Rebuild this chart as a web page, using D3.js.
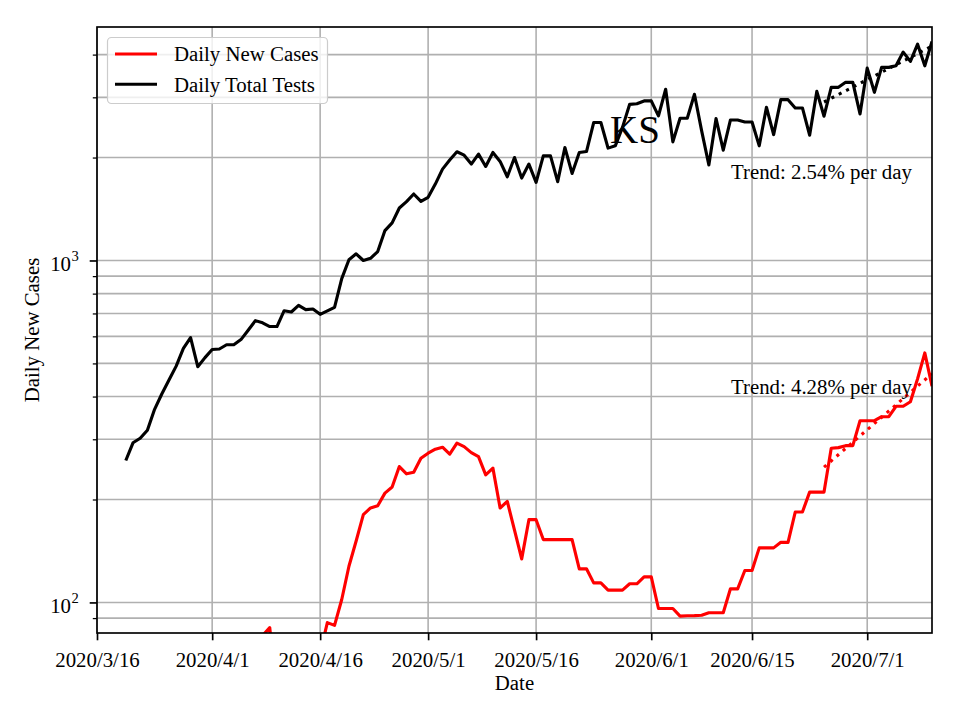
<!DOCTYPE html>
<html><head><meta charset="utf-8">
<script src="https://cdn.jsdelivr.net/npm/d3@7/dist/d3.min.js"></script>
<style>
body{margin:0;background:#fff}
svg{display:block}
text{font-family:"Liberation Serif","Times New Roman",serif;fill:#000}
</style>
</head><body>
<svg id="chart" width="960" height="720"></svg>
<script>
// ---------------- data ----------------
const stateName = "KS";
const firstDataDate = "2020-03-20";
const lastDataDate = "2020-07-10";
const axisStartDate = "2020-03-16";
const axisEndDate = "2020-07-10";

const dailyNewCases = [
  14, 11, 21, 16, 28, 27, 32, 40, 56, 55,
  38, 45, 60, 48, 52, 66, 59, 70, 62, 80,
  84.4, 52, 60, 49, 66, 58, 64, 71, 87.3, 85.7,
  102, 127.6, 151.2, 180.6, 188.9, 191.8, 208.8, 217.5, 249.6, 237.7,
  240.4, 264.1, 273.2, 280.6, 284.4, 271.4, 292.2, 285.6, 274.3, 267,
  236, 247, 188.9, 197.4, 162.6, 134.1, 174.6, 174.6, 152.7, 152.7,
  152.7, 152.7, 152.7, 125.4, 125.4, 114.1, 114.1, 108.6, 108.6, 108.6,
  113.4, 113.4, 118.8, 118.8, 96.0, 96.0, 96.0, 91.2, 91.4, 91.5,
  91.7, 93.3, 93.3, 93.3, 109.6, 109.6, 124.0, 124.0, 144.4, 144.4,
  144.4, 149.9, 149.9, 183.8, 183.8, 210.2, 210.2, 210.2, 282.5, 283.6,
  287.4, 287.4, 340, 340, 340, 349.2, 349.2, 374.6, 374.6, 386.4,
  451, 536.6, 429
];

const dailyTotalTests = [
  260, 293, 302, 319, 367, 407, 447, 491, 553, 595,
  489, 520, 549, 551, 567, 567, 587, 625, 667, 657,
  641, 641, 713, 707, 739, 718, 721, 696, 712, 729,
  885, 1005, 1046, 1000, 1015, 1062, 1223, 1288, 1424, 1486,
  1565, 1489, 1530, 1673, 1850, 1966, 2079, 2032, 1914, 2047,
  1884, 2069, 1948, 1757, 2000, 1742, 1914, 1692, 2023, 2023,
  1700, 2140, 1797, 2069, 2083, 2532, 2532, 2131, 2164, 2450,
  2862, 2874, 2928, 2928, 2647, 3167, 2223, 2606, 2606, 3062,
  2394, 1902, 2600, 2102, 2576, 2576, 2541, 2541, 2164, 2806,
  2334, 2953, 2953, 2793, 2793, 2325, 3124, 2642, 3209, 3209,
  3319, 3319, 2683, 3653, 3103, 3670, 3670, 3710, 4068, 3821,
  4292, 3710, 4371
];

const trendDates = ["2020-06-25", "2020-07-10"];
const casesTrend = [248.7, 466.7];
const testsTrend = [2907, 4236];
const casesTrendLabel = "Trend: 4.28% per day";
const testsTrendLabel = "Trend: 2.54% per day";

const xTickDates = ["2020-03-16","2020-04-01","2020-04-16","2020-05-01","2020-05-16","2020-06-01","2020-06-15","2020-07-01"];
const xTickLabels = ["2020/3/16","2020/4/1","2020/4/16","2020/5/1","2020/5/16","2020/6/1","2020/6/15","2020/7/1"];
const yMajorTicks = [100, 1000];
const yMajorExponents = ["2", "3"];
const yMinorTicks = [90, 200, 300, 400, 500, 600, 700, 800, 900, 2000, 3000, 4000];
const yDomain = [81.4, 4817];

const seriesNames = ["Daily New Cases", "Daily Total Tests"];
const seriesColors = ["#ff0000", "#000000"];

// ---------------- layout ----------------
const L = 97, R = 932, T = 27, B = 633;
const FS = 20.83;
const LW = 3.125;

const parse = d3.utcParse("%Y-%m-%d");
const dates = d3.utcDay.range(parse(firstDataDate), d3.utcDay.offset(parse(lastDataDate), 1));

const x = d3.scaleUtc().domain([parse(axisStartDate), parse(axisEndDate)]).range([L, R]);
const y = d3.scaleLog().domain(yDomain).range([B, T]);

const svg = d3.select("#chart");
svg.append("rect").attr("width", 960).attr("height", 720).attr("fill", "#fff");

svg.append("defs").append("clipPath").attr("id", "clip")
  .append("rect").attr("x", L).attr("y", T).attr("width", R - L).attr("height", B - T);

// grid
const grid = svg.append("g").attr("stroke", "#b0b0b0").attr("stroke-width", 1.6);
grid.selectAll("line.v").data(xTickDates).join("line")
  .attr("x1", d => x(parse(d))).attr("x2", d => x(parse(d)))
  .attr("y1", T).attr("y2", B);
grid.selectAll("line.h").data(yMajorTicks.concat(yMinorTicks)).join("line")
  .attr("x1", L).attr("x2", R)
  .attr("y1", d => y(d)).attr("y2", d => y(d));

// lines
const plot = svg.append("g").attr("clip-path", "url(#clip)");
const lineGen = d3.line().x((d, i) => x(dates[i])).y(d => y(d));
const seriesData = [dailyNewCases, dailyTotalTests];

const trendGen = d3.line().x((d, i) => x(parse(trendDates[i]))).y(d => y(d));
[casesTrend, testsTrend].forEach((t, k) => {
  plot.append("path").attr("d", trendGen(t))
    .attr("fill", "none").attr("stroke", seriesColors[k])
    .attr("stroke-width", LW).attr("stroke-dasharray", "3.1,5.2");
});
seriesData.forEach((s, k) => {
  plot.append("path").attr("d", lineGen(s))
    .attr("fill", "none").attr("stroke", seriesColors[k])
    .attr("stroke-width", LW).attr("stroke-linejoin", "round");
});

// annotation texts
svg.append("text").attr("x", 731).attr("y", 394).attr("font-size", FS).text(casesTrendLabel);
svg.append("text").attr("x", 731).attr("y", 179).attr("font-size", FS).text(testsTrendLabel);
svg.append("text").attr("x", 635).attr("y", 143).attr("font-size", 39)
  .attr("text-anchor", "middle").text(stateName);

// axes
const xAxis = d3.axisBottom(x)
  .tickValues(xTickDates.map(parse))
  .tickFormat((d, i) => xTickLabels[i])
  .tickSize(7.3).tickPadding(7);
const gx = svg.append("g").attr("transform", `translate(0,${B})`).call(xAxis);
gx.select(".domain").remove();
gx.selectAll(".tick line").attr("stroke", "#000").attr("stroke-width", 1.67);
gx.selectAll(".tick text").attr("font-size", FS).attr("font-family", "Liberation Serif")
  .attr("dy", null).attr("y", 34);

const yAxisMajor = d3.axisLeft(y).tickValues(yMajorTicks).tickFormat("").tickSize(7.3);
const gy = svg.append("g").attr("transform", `translate(${L},0)`).call(yAxisMajor);
gy.select(".domain").remove();
gy.selectAll(".tick line").attr("stroke", "#000").attr("stroke-width", 1.67);

const yAxisMinor = d3.axisLeft(y).tickValues(yMinorTicks).tickFormat("").tickSize(4.2);
const gym = svg.append("g").attr("transform", `translate(${L},0)`).call(yAxisMinor);
gym.select(".domain").remove();
gym.selectAll(".tick line").attr("stroke", "#000").attr("stroke-width", 1.25);

// y tick labels with superscripts
const ylab = svg.append("g");
yMajorTicks.forEach((v, i) => {
  const t = ylab.append("text").attr("x", 71).attr("y", y(v) + 10.2)
    .attr("font-size", FS).attr("text-anchor", "end").text("10");
  ylab.append("text").attr("x", 71.5).attr("y", y(v) + 0.8)
    .attr("font-size", 14.6).text(yMajorExponents[i]);
});

// spines
svg.append("rect").attr("x", L).attr("y", T).attr("width", R - L).attr("height", B - T)
  .attr("fill", "none").attr("stroke", "#000").attr("stroke-width", 1.67);

// axis labels
svg.append("text").attr("x", (L + R) / 2).attr("y", 690).attr("font-size", FS)
  .attr("text-anchor", "middle").text("Date");
svg.append("text").attr("transform", `translate(39,${(T + B) / 2}) rotate(-90)`)
  .attr("font-size", FS).attr("text-anchor", "middle").text("Daily New Cases");

// legend
const lg = svg.append("g");
lg.append("rect").attr("x", 107.5).attr("y", 37.5).attr("width", 220).attr("height", 66)
  .attr("rx", 4).attr("fill", "#fff").attr("fill-opacity", 0.8)
  .attr("stroke", "#cccccc").attr("stroke-width", 1.2);
const legendY = [54, 84.3];
seriesNames.forEach((n, k) => {
  lg.append("line").attr("x1", 115).attr("x2", 157).attr("y1", legendY[k]).attr("y2", legendY[k])
    .attr("stroke", seriesColors[k]).attr("stroke-width", LW);
  lg.append("text").attr("x", 174).attr("y", legendY[k] + 7.2).attr("font-size", FS).text(n);
});
</script>
</body></html>
